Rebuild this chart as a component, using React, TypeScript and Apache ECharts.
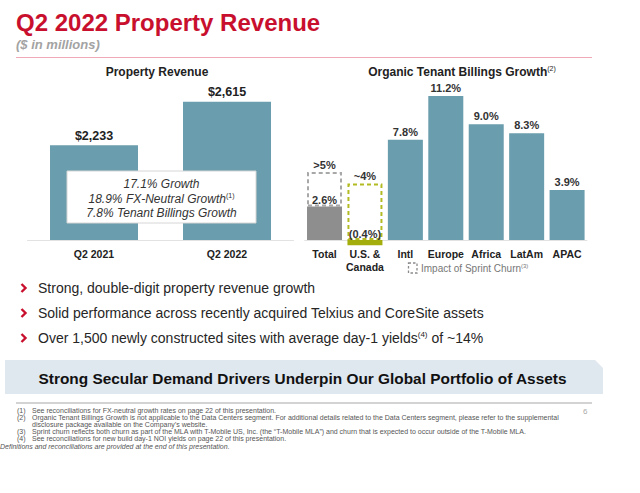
import React, { useEffect, useRef } from 'react';
import * as echarts from 'echarts';

const FONT = '"Liberation Sans", Arial, sans-serif';
const TEAL = '#6A9DAD';
const GRAY_BAR = '#8E8E8E';
const OLIVE = '#A3AE0C';
const RED = '#C8102E';

const revenueCategories = ['Q2 2021', 'Q2 2022'];
const revenueValues = [2233, 2615];

const growthCategories = ['Total', 'U.S. &\nCanada', 'Intl', 'Europe', 'Africa', 'LatAm', 'APAC'];
const growthValues = [2.6, -0.4, 7.8, 11.2, 9.0, 8.3, 3.9];
const sprintBoxTops = [5.3, 4.4];
const sprintLabels = ['>5%', '~4%'];
const sprintBorderColors = ['#A8A8A8', '#B3BB22'];

const growthNotes = ['17.1% Growth', '18.9% FX-Neutral Growth', '7.8% Tenant Billings Growth'];

const bullets = [
  'Strong, double-digit property revenue growth',
  'Solid performance across recently acquired Telxius and CoreSite assets',
  'Over 1,500 newly constructed sites with average day-1 yields',
];

const footnotes: [string, string][] = [
  ['(1)', 'See reconciliations for FX-neutral growth rates on page 22 of this presentation.'],
  ['(2)', 'Organic Tenant Billings Growth is not applicable to the Data Centers segment. For additional details related to the Data Centers segment, please refer to the supplemental'],
  ['', 'disclosure package available on the Company\u2019s website.'],
  ['(3)', 'Sprint churn reflects both churn as part of the MLA with T-Mobile US, Inc. (the \u201CT-Mobile MLA\u201D) and churn that is expected to occur outside of the T-Mobile MLA.'],
  ['(4)', 'See reconciliations for new build day-1 NOI yields on page 22 of this presentation.'],
];

function txt(x: number, y: number, text: string, extra: any = {}) {
  return {
    type: 'text',
    z: 100,
    style: {
      x,
      y,
      text,
      fontFamily: FONT,
      fontSize: 12,
      fill: '#222',
      textAlign: 'left',
      textVerticalAlign: 'middle',
      ...extra,
    },
  };
}

export default function App() {
  const ref = useRef<HTMLDivElement>(null);

  useEffect(() => {
    if (!ref.current) return;
    const chart = echarts.init(ref.current, undefined, { renderer: 'svg' });

    const growthData = growthValues.map((v, i) => ({
      value: v,
      itemStyle: { color: i === 0 ? GRAY_BAR : i === 1 ? OLIVE : TEAL },
      label: i === 1 ? { distance: 1 } : i === 0 ? { distance: 1.5 } : {},
    }));

    const sprintData = growthCategories.map((_, i) => {
      if (i >= sprintBoxTops.length) return '-';
      const base = Math.max(0, growthValues[i]);
      return {
        value: +(sprintBoxTops[i] - base).toFixed(2),
        itemStyle: { borderColor: sprintBorderColors[i] },
      };
    });

    const graphic: any[] = [];
    // header
    graphic.push(txt(16, 22, 'Q2 2022 Property Revenue', { fontSize: 24, fontWeight: 'bold', fill: RED }));
    graphic.push(txt(16, 44, '($ in millions)', { fontSize: 13, fontWeight: 'bold', fontStyle: 'italic', fill: '#A3A3A3' }));
    graphic.push({ type: 'line', z: 100, shape: { x1: 16, y1: 57.5, x2: 592, y2: 57.5 }, style: { stroke: '#F0AAB6', lineWidth: 1 } });

    // chart titles
    graphic.push(txt(157, 72, 'Property Revenue', { fontSize: 12, fontWeight: 'bold', textAlign: 'center' }));
    graphic.push({
      type: 'text',
      z: 100,
      style: {
        x: 462,
        y: 72,
        text: '{t|Organic Tenant Billings Growth}{s|(2)}',
        fontFamily: FONT,
        fill: '#222',
        textAlign: 'center',
        textVerticalAlign: 'middle',
        rich: {
          t: { fontSize: 12, fontWeight: 'bold', fontFamily: FONT, fill: '#222', lineHeight: 14 },
          s: { fontSize: 7, fontFamily: FONT, fill: '#222', verticalAlign: 'top' },
        },
      },
    });

    // growth box
    graphic.push({
      type: 'rect',
      z: 100,
      shape: { x: 67, y: 171, width: 189, height: 52 },
      style: { fill: '#FFFFFF', stroke: '#D6D6D6', lineWidth: 1 },
    });
    growthNotes.forEach((n, i) => {
      const y = 184 + i * 14.5;
      if (i === 1) {
        graphic.push({
          type: 'text',
          z: 101,
          style: {
            x: 161.5,
            y,
            text: `{t|${n}}{s|(1)}`,
            fontFamily: FONT,
            fill: '#333',
            textAlign: 'center',
            textVerticalAlign: 'middle',
            rich: {
              t: { fontSize: 12, fontStyle: 'italic', fontFamily: FONT, fill: '#333', lineHeight: 14 },
              s: { fontSize: 7, fontFamily: FONT, fill: '#333', verticalAlign: 'top' },
            },
          },
        });
      } else {
        graphic.push({ ...txt(161.5, y, n, { fontSize: 12, fontStyle: 'italic', fill: '#333', textAlign: 'center' }), z: 101 });
      }
    });

    // legend
    graphic.push({
      type: 'rect',
      z: 100,
      shape: { x: 408.5, y: 263, width: 8.5, height: 10 },
      style: { fill: 'none', stroke: '#8A8A8A', lineWidth: 1.3, lineDash: [2.5, 2] },
    });
    graphic.push({
      type: 'text',
      z: 100,
      style: {
        x: 421,
        y: 268.5,
        text: '{t|Impact of Sprint Churn}{s|(3)}',
        fontFamily: FONT,
        fill: '#777',
        textAlign: 'left',
        textVerticalAlign: 'middle',
        rich: {
          t: { fontSize: 10, fontFamily: FONT, fill: '#777', lineHeight: 12 },
          s: { fontSize: 6, fontFamily: FONT, fill: '#777', verticalAlign: 'top' },
        },
      },
    });

    // bullets
    bullets.forEach((b, i) => {
      const y = 288 + i * 25;
      graphic.push({
        type: 'polyline',
        z: 100,
        shape: { points: [[21.5, y - 4], [25.5, y], [21.5, y + 4]] },
        style: { stroke: RED, lineWidth: 2.4, fill: 'none' },
      });
      if (i === 2) {
        graphic.push({
          type: 'text',
          z: 100,
          style: {
            x: 38,
            y,
            text: `{t|${b}}{s|(4)}{t| of ~14%}`,
            fontFamily: FONT,
            fill: '#262626',
            textAlign: 'left',
            textVerticalAlign: 'middle',
            rich: {
              t: { fontSize: 14, fontFamily: FONT, fill: '#262626', lineHeight: 16 },
              s: { fontSize: 8, fontFamily: FONT, fill: '#262626', verticalAlign: 'top' },
            },
          },
        });
      } else {
        graphic.push(txt(38, y, b, { fontSize: 14, fill: '#262626' }));
      }
    });

    // banner
    graphic.push({
      type: 'polygon',
      z: 90,
      shape: { points: [[5, 360], [595, 360], [603, 368], [603, 394], [5, 394]] },
      style: { fill: '#DFE7EF' },
    });
    graphic.push(txt(302.5, 378, 'Strong Secular Demand Drivers Underpin Our Global Portfolio of Assets', { fontSize: 15.4, fontWeight: 'bold', fill: '#111', textAlign: 'center' }));
    graphic.push({ type: 'line', z: 100, shape: { x1: 16, y1: 403, x2: 592, y2: 403 }, style: { stroke: '#D3D3D3', lineWidth: 2 } });

    // footnotes
    const fy = [410, 417, 424, 431.5, 438.5];
    footnotes.forEach(([n, t], i) => {
      if (n) graphic.push(txt(17, fy[i], n, { fontSize: 7, fill: '#555' }));
      graphic.push(txt(32, fy[i], t, { fontSize: 7, fill: '#555' }));
    });
    graphic.push(txt(0, 446, 'Definitions and reconciliations are provided at the end of this presentation.', { fontSize: 7, fontStyle: 'italic', fill: '#555' }));
    graphic.push(txt(583, 411, '6', { fontSize: 8, fill: '#AAA' }));

    const K = 12.85; // px per percentage point in right chart
    const gMin = -0.4;
    const gMax = 12;

    const option: any = {
      animation: false,
      textStyle: { fontFamily: FONT },
      grid: [
        { left: 27.5, top: 58, width: 266, height: 182, containLabel: false },
        { left: 304.3, top: 240 - gMax * K, width: 283, height: (gMax - gMin) * K, containLabel: false },
      ],
      xAxis: [
        {
          type: 'category',
          gridIndex: 0,
          data: revenueCategories,
          axisTick: { show: false },
          axisLine: { lineStyle: { color: '#E2E2E2', width: 1 } },
          axisLabel: { color: '#222', fontWeight: 'bold', fontSize: 10.5, margin: 8, fontFamily: FONT },
        },
        {
          type: 'category',
          gridIndex: 1,
          data: growthCategories,
          axisTick: { show: false },
          axisLine: { show: false, onZero: false },
          axisLabel: { color: '#222', fontWeight: 'bold', fontSize: 10.5, margin: 2, lineHeight: 13, fontFamily: FONT, interval: 0, verticalAlign: 'top' },
        },
      ],
      yAxis: [
        { type: 'value', gridIndex: 0, min: 1400, max: 3000, show: false, splitLine: { show: false } },
        { type: 'value', gridIndex: 1, min: gMin, max: gMax, show: false, splitLine: { show: false } },
      ],
      series: [
        {
          type: 'bar',
          xAxisIndex: 0,
          yAxisIndex: 0,
          data: revenueValues,
          barWidth: 88,
          itemStyle: { color: TEAL },
          label: {
            show: true,
            position: 'top',
            distance: 3,
            color: '#222',
            fontWeight: 'bold',
            fontSize: 12.5,
            fontFamily: FONT,
            formatter: (p: any) => '$' + Number(p.value).toLocaleString('en-US'),
          },
        },
        {
          type: 'bar',
          name: 'Organic',
          xAxisIndex: 1,
          yAxisIndex: 1,
          stack: 'g',
          data: growthData,
          barWidth: 35,
          z: 3,
          label: {
            show: true,
            position: 'top',
            distance: 2.5,
            color: '#333',
            fontWeight: 'bold',
            fontSize: 11,
            fontFamily: FONT,
            formatter: (p: any) => {
              const v = Number(p.value);
              return v < 0 ? `(${Math.abs(v).toFixed(1)}%)` : `${v.toFixed(1)}%`;
            },
          },
          markLine: {
            silent: true,
            symbol: 'none',
            label: { show: false },
            lineStyle: { color: '#E2E2E2', width: 1, type: 'solid' },
            data: [{ yAxis: 0 }],
            z: 1,
          },
        },
        {
          type: 'bar',
          name: 'Impact of Sprint Churn',
          xAxisIndex: 1,
          yAxisIndex: 1,
          stack: 'g',
          data: sprintData,
          barWidth: 35,
          itemStyle: { color: 'rgba(0,0,0,0)', borderWidth: 2, borderType: [4, 3] },
          label: {
            show: true,
            position: 'top',
            distance: 1.5,
            color: '#333',
            fontWeight: 'bold',
            fontSize: 11,
            fontFamily: FONT,
            formatter: (p: any) => sprintLabels[p.dataIndex] ?? '',
          },
        },
      ],
      graphic,
    };

    chart.setOption(option);
    return () => chart.dispose();
  }, []);

  return (
    <div
      ref={ref}
      style={{ position: 'fixed', left: 0, top: 0, width: 640, height: 493, background: '#fff' }}
    />
  );
}
